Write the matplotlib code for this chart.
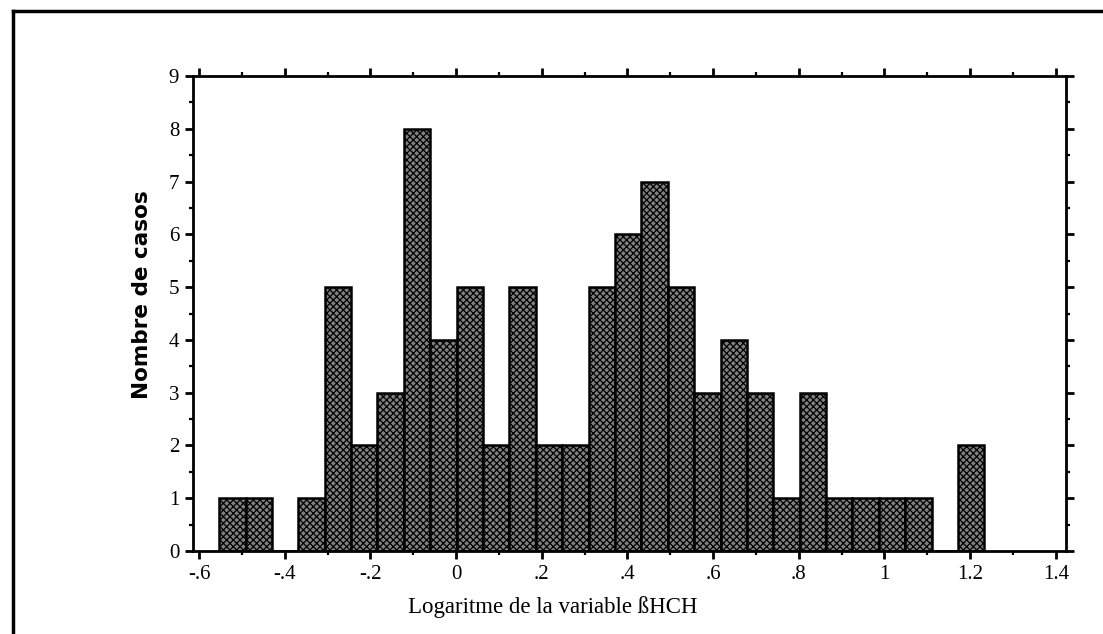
import numpy as np
import matplotlib

matplotlib.use("Agg")
import matplotlib.pyplot as plt
from matplotlib.lines import Line2D
from matplotlib.ticker import MultipleLocator

# Histogram of log(betaHCH): equal-width classes starting at bin_start
bin_start = -0.553
bin_width = 0.0616
counts = [1, 1, 0, 1, 5, 2, 3, 8, 4, 5, 2, 5, 2, 2, 5,
          6, 7, 5, 3, 4, 3, 1, 3, 1, 1, 1, 1, 0, 2]

x_ticks = [-0.6, -0.4, -0.2, 0.0, 0.2, 0.4, 0.6, 0.8, 1.0, 1.2, 1.4]
x_ticklabels = ["-.6", "-.4", "-.2", "0", ".2", ".4", ".6", ".8", "1", "1.2", "1.4"]
y_ticks = list(range(10))

plt.rcParams["hatch.linewidth"] = 0.9

fig = plt.figure(figsize=(11.03, 6.34), dpi=100)
ax = fig.add_axes([0.175, 0.131, 0.7915, 0.749])

lefts = bin_start + bin_width * np.arange(len(counts))
ax.bar(lefts, counts, width=bin_width, align="edge",
       facecolor="#808080", edgecolor="black", linewidth=1.8,
       hatch="xxxxx", zorder=2)

ax.set_xlim(-0.614, 1.424)
ax.set_ylim(0, 9)

ax.set_xticks(x_ticks)
ax.set_xticklabels(x_ticklabels)
ax.xaxis.set_minor_locator(MultipleLocator(0.1))
ax.set_yticks(y_ticks)
ax.yaxis.set_minor_locator(MultipleLocator(0.5))

serif = ["Liberation Serif", "DejaVu Serif"]
for lab in ax.get_xticklabels() + ax.get_yticklabels():
    lab.set_fontfamily(serif)
    lab.set_fontsize(15)

ax.tick_params(which="both", direction="out", top=True, right=True, color="black")
ax.tick_params(which="major", length=6, width=2, pad=4)
ax.tick_params(which="minor", length=3, width=1.6)
for s in ax.spines.values():
    s.set_linewidth(2)

ax.set_xlabel("Logaritme de la variable ßHCH", fontsize=16.5, family=serif)
ax.xaxis.set_label_coords(0.412, -0.095)
ax.set_ylabel("Nombre de casos", fontsize=15.5, family=["DejaVu Sans"], fontweight="bold")
ax.yaxis.set_label_coords(-0.047, 0.539)

# outer frame (top and left edges only)
fig.add_artist(Line2D([0.0115, 1.0], [0.983, 0.983], color="black", lw=2.5, transform=fig.transFigure))
fig.add_artist(Line2D([0.0115, 0.0115], [0.0, 0.983], color="black", lw=2.5, transform=fig.transFigure))

fig.savefig("out.png", dpi=100, facecolor="white")
